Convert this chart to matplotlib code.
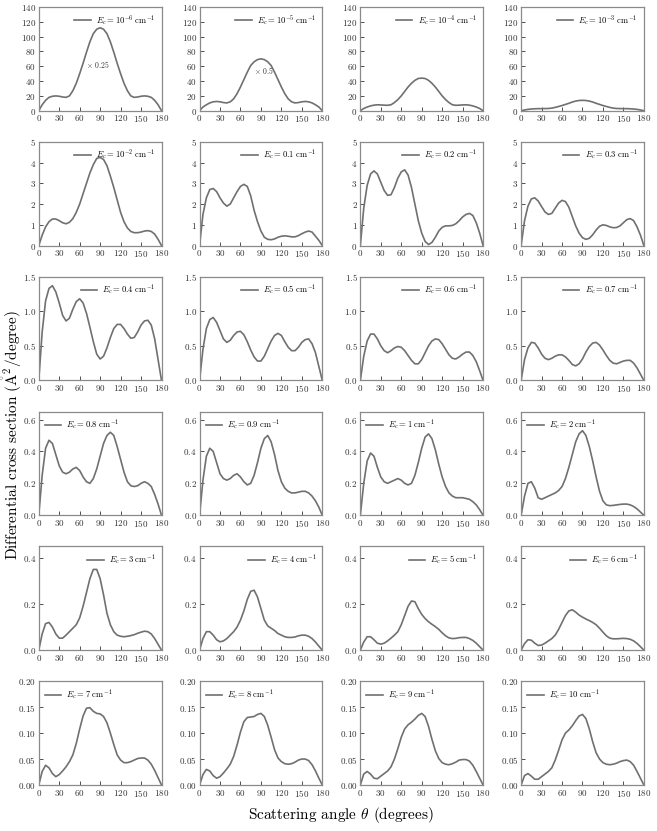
import numpy as np
import matplotlib
matplotlib.use("Agg")
import matplotlib.pyplot as plt

plt.rcParams['font.family'] = ['cmr10', 'DejaVu Serif']
plt.rcParams['mathtext.fontset'] = 'cm'
plt.rcParams['axes.formatter.use_mathtext'] = True

# scattering angles (degrees) at which the curves were read
theta = list(range(0, 181, 5))

energies = [r'10^{-6}', r'10^{-5}', r'10^{-4}', r'10^{-3}',
            r'10^{-2}', '0.1', '0.2', '0.3',
            '0.4', '0.5', '0.6', '0.7',
            '0.8', '0.9', '1', '2',
            '3', '4', '5', '6',
            '7', '8', '9', '10']

dcs_1e6 = [0, 8, 14, 18, 19.5, 20, 19.5, 18.5, 18, 20, 27, 37, 50, 64, 79, 93, 104, 110, 112,
           110, 104, 93, 79, 64, 50, 37, 27, 20, 18, 18.5, 19.5, 20, 19.5, 18, 14, 8, 0]
dcs_1e5 = [0, 5, 8, 10.5, 12, 12.5, 12, 11, 10.5, 12, 16, 23, 32, 42, 52, 61, 66, 69, 70,
           69, 66, 61, 52, 42, 32, 23, 16, 12, 10.5, 11, 12, 12.5, 12, 10.5, 8, 5, 0]
dcs_1e4 = [0, 3, 5, 6.5, 7.5, 8, 7.8, 7.5, 7.3, 8, 11, 15, 20, 26, 32, 37, 41, 43.5, 44,
           43.5, 41, 37, 32, 26, 20, 15, 11, 8, 7.3, 7.5, 7.8, 8, 7.5, 6.5, 5, 3, 0]
dcs_1e3 = [0, 1, 1.8, 2.3, 2.6, 2.8, 2.8, 2.9, 3, 3.5, 4.5, 5.7, 7, 8.5, 10, 11.7, 13, 13.8, 14,
           13.8, 13, 11.7, 10, 8.5, 7, 5.7, 4.5, 3.5, 3, 2.9, 2.8, 2.8, 2.6, 2.3, 1.8, 1, 0]
dcs_1e2 = [0, 0.5, 0.9, 1.15, 1.28, 1.28, 1.2, 1.1, 1.05, 1.12, 1.3, 1.6, 2.0, 2.5, 3.0, 3.5, 3.9, 4.2, 4.25,
           4.15, 3.85, 3.35, 2.8, 2.2, 1.6, 1.15, 0.85, 0.68, 0.62, 0.62, 0.65, 0.7, 0.72, 0.68, 0.55, 0.3, 0]
dcs_0p1 = [0, 1.5, 2.3, 2.7, 2.75, 2.6, 2.3, 2.05, 1.9, 2.0, 2.3, 2.6, 2.85, 2.95, 2.85, 2.4, 1.7, 1.15, 0.7,
           0.4, 0.3, 0.28, 0.32, 0.4, 0.45, 0.47, 0.45, 0.42, 0.42, 0.48, 0.57, 0.65, 0.7, 0.65, 0.45, 0.25, 0]
dcs_0p2 = [0, 1.8, 2.9, 3.45, 3.6, 3.45, 3.05, 2.65, 2.42, 2.45, 2.8, 3.25, 3.55, 3.65, 3.4, 2.8, 2.0, 1.2, 0.6,
           0.2, 0.05, 0.15, 0.4, 0.7, 0.88, 0.95, 0.95, 0.97, 1.05, 1.2, 1.38, 1.5, 1.55, 1.45, 1.1, 0.6, 0]
dcs_0p3 = [0, 1.2, 1.9, 2.25, 2.3, 2.15, 1.88, 1.62, 1.5, 1.55, 1.8, 2.05, 2.18, 2.12, 1.85, 1.4, 0.95, 0.6, 0.38,
           0.3, 0.35, 0.52, 0.75, 0.93, 1.0, 0.97, 0.9, 0.86, 0.87, 0.95, 1.1, 1.25, 1.3, 1.2, 0.9, 0.5, 0]
dcs_0p4 = [0, 0.7, 1.15, 1.33, 1.37, 1.28, 1.12, 0.94, 0.86, 0.9, 1.03, 1.14, 1.18, 1.12, 0.97, 0.77, 0.56, 0.38, 0.31,
           0.35, 0.47, 0.62, 0.75, 0.81, 0.81, 0.75, 0.67, 0.61, 0.62, 0.7, 0.8, 0.86, 0.87, 0.8, 0.6, 0.3, 0]
dcs_0p5 = [0, 0.45, 0.75, 0.88, 0.91, 0.84, 0.72, 0.6, 0.55, 0.58, 0.65, 0.7, 0.71, 0.66, 0.56, 0.44, 0.34, 0.28, 0.28,
           0.35, 0.46, 0.57, 0.65, 0.68, 0.65, 0.56, 0.48, 0.43, 0.43, 0.48, 0.55, 0.59, 0.6, 0.53, 0.4, 0.2, 0]
dcs_0p6 = [0, 0.35, 0.57, 0.67, 0.67, 0.6, 0.5, 0.43, 0.4, 0.43, 0.47, 0.49, 0.48, 0.43, 0.36, 0.29, 0.24, 0.24, 0.3,
           0.4, 0.5, 0.57, 0.6, 0.59, 0.53, 0.45, 0.37, 0.32, 0.31, 0.34, 0.38, 0.41, 0.41, 0.36, 0.27, 0.14, 0]
dcs_0p7 = [0, 0.3, 0.47, 0.55, 0.54, 0.47, 0.38, 0.32, 0.3, 0.32, 0.35, 0.37, 0.37, 0.34, 0.29, 0.23, 0.21, 0.24, 0.31,
           0.41, 0.49, 0.54, 0.55, 0.51, 0.44, 0.36, 0.29, 0.25, 0.24, 0.26, 0.28, 0.29, 0.29, 0.25, 0.18, 0.09, 0]
dcs_0p8 = [0, 0.25, 0.42, 0.47, 0.45, 0.38, 0.31, 0.27, 0.26, 0.27, 0.29, 0.3, 0.28, 0.24, 0.21, 0.2, 0.23, 0.29, 0.37,
           0.45, 0.5, 0.52, 0.5, 0.43, 0.35, 0.27, 0.21, 0.185, 0.18, 0.185, 0.2, 0.21, 0.2, 0.18, 0.13, 0.07, 0]
dcs_0p9 = [0, 0.22, 0.37, 0.42, 0.4, 0.33, 0.26, 0.23, 0.22, 0.23, 0.25, 0.26, 0.24, 0.21, 0.19, 0.2, 0.25, 0.33, 0.42,
           0.48, 0.5, 0.46, 0.38, 0.28, 0.21, 0.17, 0.15, 0.14, 0.14, 0.145, 0.15, 0.15, 0.14, 0.12, 0.09, 0.05, 0]
dcs_1 = [0, 0.2, 0.34, 0.39, 0.37, 0.3, 0.24, 0.21, 0.2, 0.21, 0.22, 0.23, 0.22, 0.2, 0.19, 0.2, 0.25, 0.33, 0.42,
         0.49, 0.51, 0.48, 0.41, 0.32, 0.24, 0.18, 0.14, 0.12, 0.11, 0.11, 0.11, 0.105, 0.1, 0.085, 0.065, 0.035, 0]
dcs_2 = [0, 0.12, 0.2, 0.21, 0.17, 0.11, 0.1, 0.11, 0.12, 0.13, 0.14, 0.155, 0.18, 0.23, 0.3, 0.38, 0.46, 0.51, 0.53,
         0.5, 0.43, 0.34, 0.24, 0.15, 0.09, 0.065, 0.06, 0.062, 0.065, 0.068, 0.07, 0.07, 0.065, 0.055, 0.04, 0.02, 0]
dcs_3 = [0, 0.07, 0.115, 0.12, 0.1, 0.07, 0.052, 0.052, 0.065, 0.08, 0.095, 0.11, 0.14, 0.19, 0.25, 0.31, 0.35, 0.35,
         0.31, 0.24, 0.16, 0.11, 0.08, 0.065, 0.06, 0.058, 0.06, 0.063, 0.067, 0.073, 0.078, 0.082, 0.08, 0.07, 0.05,
         0.025, 0]
dcs_4 = [0, 0.05, 0.08, 0.08, 0.065, 0.045, 0.036, 0.04, 0.05, 0.065, 0.08, 0.1, 0.13, 0.17, 0.22, 0.255, 0.26, 0.23,
         0.18, 0.13, 0.105, 0.095, 0.085, 0.072, 0.065, 0.058, 0.055, 0.055, 0.057, 0.062, 0.065, 0.065, 0.06, 0.05,
         0.035, 0.017, 0]
dcs_5 = [0, 0.035, 0.058, 0.058, 0.045, 0.03, 0.026, 0.03, 0.04, 0.052, 0.065, 0.08, 0.11, 0.15, 0.19, 0.213, 0.21,
         0.18, 0.155, 0.137, 0.123, 0.112, 0.102, 0.09, 0.075, 0.062, 0.053, 0.05, 0.051, 0.054, 0.055, 0.055, 0.05,
         0.042, 0.03, 0.015, 0]
dcs_6 = [0, 0.028, 0.045, 0.043, 0.03, 0.02, 0.022, 0.03, 0.04, 0.05, 0.065, 0.09, 0.12, 0.15, 0.17, 0.175, 0.165,
         0.152, 0.143, 0.135, 0.128, 0.12, 0.11, 0.095, 0.078, 0.062, 0.052, 0.049, 0.049, 0.05, 0.051, 0.05, 0.047,
         0.04, 0.029, 0.015, 0]
dcs_7 = [0, 0.026, 0.038, 0.033, 0.022, 0.016, 0.02, 0.027, 0.035, 0.045, 0.058, 0.08, 0.108, 0.133, 0.148, 0.149,
         0.142, 0.138, 0.137, 0.132, 0.12, 0.1, 0.078, 0.058, 0.048, 0.043, 0.043, 0.045, 0.048, 0.051, 0.052, 0.052,
         0.048, 0.04, 0.028, 0.014, 0]
dcs_8 = [0, 0.02, 0.03, 0.027, 0.018, 0.013, 0.016, 0.023, 0.031, 0.04, 0.055, 0.077, 0.102, 0.122, 0.13, 0.131,
         0.132, 0.136, 0.138, 0.132, 0.115, 0.092, 0.068, 0.052, 0.045, 0.041, 0.04, 0.041, 0.044, 0.048, 0.05, 0.05,
         0.047, 0.039, 0.027, 0.013, 0]
dcs_9 = [0, 0.021, 0.026, 0.021, 0.013, 0.012, 0.017, 0.022, 0.027, 0.035, 0.05, 0.07, 0.092, 0.108, 0.116, 0.121,
         0.127, 0.134, 0.138, 0.132, 0.113, 0.088, 0.066, 0.051, 0.043, 0.04, 0.039, 0.041, 0.044, 0.048, 0.049, 0.049,
         0.046, 0.038, 0.026, 0.013, 0]
dcs_10 = [0, 0.018, 0.022, 0.017, 0.011, 0.011, 0.016, 0.021, 0.026, 0.033, 0.048, 0.067, 0.087, 0.1, 0.106, 0.114,
          0.124, 0.133, 0.136, 0.128, 0.108, 0.083, 0.062, 0.05, 0.043, 0.04, 0.039, 0.04, 0.042, 0.045, 0.047, 0.048,
          0.045, 0.038, 0.026, 0.013, 0]

curves = [dcs_1e6, dcs_1e5, dcs_1e4, dcs_1e3, dcs_1e2, dcs_0p1, dcs_0p2, dcs_0p3,
          dcs_0p4, dcs_0p5, dcs_0p6, dcs_0p7, dcs_0p8, dcs_0p9, dcs_1, dcs_2,
          dcs_3, dcs_4, dcs_5, dcs_6, dcs_7, dcs_8, dcs_9, dcs_10]

# per row: y limit, y ticks, legend location
row_ylim = [140, 5, 1.5, 0.65, 0.45, 0.2]
row_yticks = [np.arange(0, 141, 20), np.arange(0, 6, 1), [0, 0.5, 1.0, 1.5],
              [0, 0.2, 0.4, 0.6], [0, 0.2, 0.4], [0, 0.05, 0.1, 0.15, 0.2]]
row_legloc = ['upper right', 'upper right', 'upper right', 'upper left', 'upper right', 'upper left']

scale_notes = {0: (70, 63, r'$\times$ 0.25'), 1: (80, 54, r'$\times$ 0.5')}

line_col = '#707070'
spine_col = '#8a8a8a'

fig, axes = plt.subplots(6, 4, figsize=(6.57, 8.31), dpi=100)
fig.subplots_adjust(left=0.059, right=0.980, top=0.9916, bottom=0.0554, wspace=0.31, hspace=0.30)

for i, ax in enumerate(axes.flat):
    r = i // 4
    ax.plot(theta, curves[i], color=line_col, lw=1.2, solid_joinstyle='round',
            label=r'$E_c = ' + energies[i] + r'\ \mathrm{cm}^{-1}$')
    ax.set_xlim(0, 180)
    ax.set_ylim(0, row_ylim[r])
    ax.set_xticks(np.arange(0, 181, 30))
    ax.set_yticks(row_yticks[r])
    ax.tick_params(direction='in', length=3, width=0.6, labelsize=6.5, pad=2, colors='#333333')
    for s in ax.spines.values():
        s.set_color(spine_col)
        s.set_linewidth(0.9)
    ax.legend(loc=row_legloc[r], frameon=False, fontsize=6.2, handlelength=1.9,
              borderaxespad=0.3, handletextpad=0.6)
    if i in scale_notes:
        x, y, t = scale_notes[i]
        ax.text(x, y, t, fontsize=5.5, va='center', ha='left', color='#333333')

fig.text(0.018, 0.477, r'Differential cross section ($\mathring{\mathrm{A}}^2$/degree)', rotation=90,
         ha='center', va='center', fontsize=11)
fig.text(0.519, 0.019, r'Scattering angle $\theta$ (degrees)', ha='center', va='center', fontsize=11)

fig.savefig('out.png', dpi=100)
